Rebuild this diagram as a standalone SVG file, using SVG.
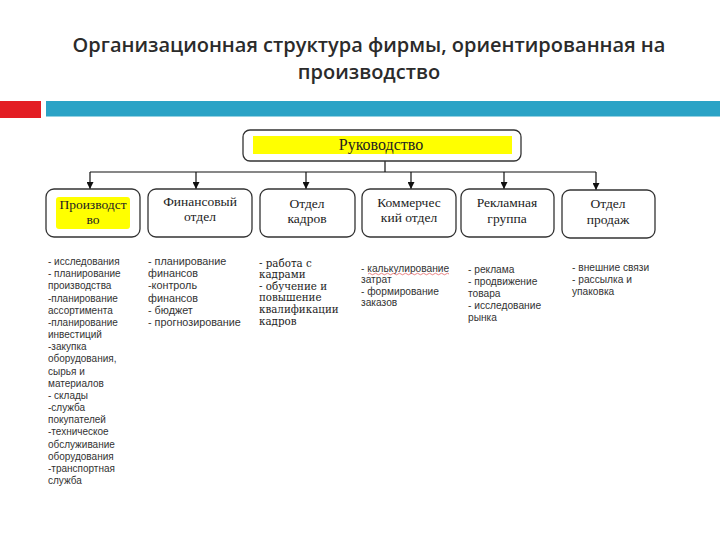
<svg xmlns="http://www.w3.org/2000/svg" width="720" height="540" viewBox="0 0 720 540">
<style>
.title{font-family:"Open Sans","Liberation Sans",sans-serif;font-weight:600;font-size:20px;fill:#2b2b2b;text-anchor:middle}
.box{fill:#fff;stroke:#333;stroke-width:1.3}
.hl{fill:#ffff00}
.bt{font-family:"Liberation Serif","DejaVu Serif",serif;font-size:13.5px;fill:#222;text-anchor:middle}
.lt{font-family:"Liberation Sans","DejaVu Sans",sans-serif;font-size:10.2px;fill:#333}
.ls{font-family:"DejaVu Serif","Liberation Serif",serif;font-size:10.3px;fill:#222}
.conn{stroke:#111;stroke-width:1.2;fill:none}
</style>
<defs>
<marker id="arr" viewBox="0 0 10 10" refX="10" refY="5" markerWidth="7" markerHeight="7" markerUnits="userSpaceOnUse" orient="auto">
<path d="M0,0 L10,5 L0,10 z" fill="#111"/>
</marker>
</defs>
<rect width="720" height="540" fill="#fff"/>
<text class="title" x="369" y="52">Организационная структура фирмы, ориентированная на</text>
<text class="title" x="369" y="79">производство</text>
<rect x="0" y="101" width="41" height="17" fill="#e31e24"/>
<rect x="46" y="101" width="674" height="15.5" fill="#2ba3c6"/>

<g id="connectors">
<line class="conn" x1="385" y1="161" x2="385" y2="172"/>
<line class="conn" x1="90" y1="172" x2="596" y2="172"/>
<line class="conn" x1="90" y1="172" x2="90" y2="189" marker-end="url(#arr)"/>
<line class="conn" x1="196" y1="172" x2="196" y2="189" marker-end="url(#arr)"/>
<line class="conn" x1="306" y1="172" x2="306" y2="189" marker-end="url(#arr)"/>
<line class="conn" x1="411" y1="172" x2="411" y2="189" marker-end="url(#arr)"/>
<line class="conn" x1="504" y1="172" x2="504" y2="189" marker-end="url(#arr)"/>
<line class="conn" x1="596" y1="172" x2="596" y2="190" marker-end="url(#arr)"/>
</g>

<g id="top">
<rect class="box" x="243" y="130" width="278" height="31" rx="7"/>
<rect class="hl" x="253" y="136" width="259" height="18"/>
<text class="bt" x="381" y="150" style="font-size:16px">Руководство</text>
</g>

<g id="n1">
<rect class="box" x="46" y="189" width="94" height="48" rx="8"/>
<rect class="hl" x="56" y="197" width="74" height="32" rx="3"/>
<text class="bt" x="93" y="209">Производст</text>
<text class="bt" x="93" y="224">во</text>
</g>
<g id="n2">
<rect class="box" x="148" y="189" width="104" height="48" rx="8"/>
<text class="bt" x="200" y="206">Финансовый</text>
<text class="bt" x="200" y="221">отдел</text>
</g>
<g id="n3">
<rect class="box" x="260" y="189" width="95" height="48" rx="8"/>
<text class="bt" x="307" y="208">Отдел</text>
<text class="bt" x="307" y="223">кадров</text>
</g>
<g id="n4">
<rect class="box" x="362" y="189" width="94" height="48" rx="8"/>
<text class="bt" x="409" y="207">Коммерчес</text>
<text class="bt" x="409" y="222">кий отдел</text>
</g>
<g id="n5">
<rect class="box" x="461" y="189" width="93" height="48" rx="8"/>
<text class="bt" x="507" y="207">Рекламная</text>
<text class="bt" x="507" y="223">группа</text>
</g>
<g id="n6">
<rect class="box" x="562" y="190" width="93" height="48" rx="8"/>
<text class="bt" x="608" y="208">Отдел</text>
<text class="bt" x="608" y="224">продаж</text>
</g>

<g id="list1" class="lt" style="font-size:10px">
<text x="48" y="265">- исследования</text>
<text x="48" y="277">- планирование</text>
<text x="48" y="289">производства</text>
<text x="48" y="302">-планирование</text>
<text x="48" y="314">ассортимента</text>
<text x="48" y="326">-планирование</text>
<text x="48" y="338">инвестиций</text>
<text x="48" y="350">-закупка</text>
<text x="48" y="362">оборудования,</text>
<text x="48" y="375">сырья и</text>
<text x="48" y="387">материалов</text>
<text x="48" y="399">- склады</text>
<text x="48" y="411">-служба</text>
<text x="48" y="423">покупателей</text>
<text x="48" y="435">-техническое</text>
<text x="48" y="448">обслуживание</text>
<text x="48" y="460">оборудования</text>
<text x="48" y="472">-транспортная</text>
<text x="48" y="484">служба</text>
</g>
<g id="list2" class="lt" style="font-size:10.8px">
<text x="148" y="265">- планирование</text>
<text x="148" y="277">финансов</text>
<text x="148" y="289">-контроль</text>
<text x="148" y="302">финансов</text>
<text x="148" y="314">- бюджет</text>
<text x="148" y="326">- прогнозирование</text>
</g>
<g id="list3" class="ls">
<text x="259" y="267">- работа с</text>
<text x="259" y="278">кадрами</text>
<text x="259" y="290">- обучение и</text>
<text x="259" y="301">повышение</text>
<text x="259" y="313">квалификации</text>
<text x="259" y="325">кадров</text>
</g>
<g id="list4" class="lt">
<text x="361" y="272">- калькулирование</text>
<text x="361" y="283">затрат</text>
<text x="361" y="295">- формирование</text>
<text x="361" y="306">заказов</text>
</g>
<path d="M368,274 q1.5,-1.5 3,0 t3,0 t3,0 t3,0 t3,0 t3,0 t3,0 t3,0 t3,0 t3,0 t3,0 t3,0 t3,0 t3,0 t3,0 t3,0 t3,0 t3,0 t3,0 t3,0 t3,0 t3,0 t3,0 t3,0 t3,0 t3,0 t3,0" fill="none" stroke="#e05050" stroke-width="0.7"/>
<g id="list5" class="lt">
<text x="468" y="273">- реклама</text>
<text x="468" y="285">- продвижение</text>
<text x="468" y="297">товара</text>
<text x="468" y="309">- исследование</text>
<text x="468" y="321">рынка</text>
</g>
<g id="list6" class="lt">
<text x="572" y="271">- внешние связи</text>
<text x="572" y="283">- рассылка и</text>
<text x="572" y="295">упаковка</text>
</g>
</svg>
